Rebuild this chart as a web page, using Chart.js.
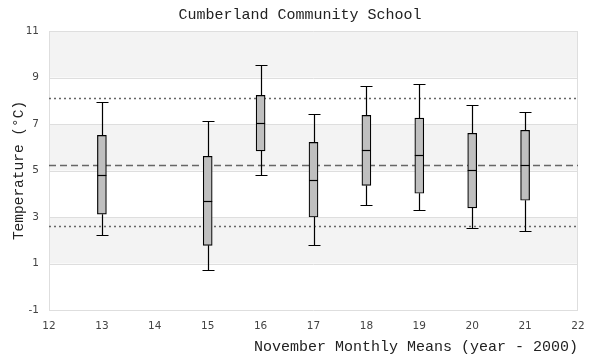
<!DOCTYPE html>
<html>
<head>
<meta charset="utf-8">
<script src="https://cdn.jsdelivr.net/npm/chart.js@4.4.0/dist/chart.umd.min.js"></script>
<style>
  html, body { margin: 0; padding: 0; background: #ffffff; }
  #wrap { width: 600px; height: 360px; position: relative; }
</style>
</head>
<body>
<div id="wrap"><canvas id="c" width="600" height="360"></canvas></div>
<script>
// ---- data ----
const years      = [13, 15, 16, 17, 18, 19, 20, 21];
const whiskerLow = [2.21, 0.71, 4.79, 1.78, 3.50, 3.29, 2.51, 2.38];
const boxLow     = [3.12, 1.78, 5.84, 3.00, 4.36, 4.02, 3.39, 3.72];
const medians    = [4.79, 3.68, 7.04, 4.58, 5.88, 5.65, 5.02, 5.22];
const boxHigh    = [6.51, 5.61, 8.23, 6.21, 7.37, 7.25, 6.60, 6.73];
const whiskerHigh= [7.93, 7.12, 9.52, 7.42, 8.62, 8.71, 7.80, 7.50];
const meanLine   = 5.24;
const upperDotted= 8.10;
const lowerDotted= 2.62;
const xTicks     = [12, 13, 14, 15, 16, 17, 18, 19, 20, 21, 22];
const yTicks     = [-1, 1, 3, 5, 7, 9, 11];

const titleFont = { family: "'Liberation Mono', monospace", size: 15, weight: 'normal' };
const tickFont  = { family: "'DejaVu Sans', sans-serif", size: 10.5 };

const boxData = years.map((y, i) => ({ x: y, y: [boxLow[i], boxHigh[i]] }));

const boxPlugin = {
  id: 'boxextras',
  beforeDatasetsDraw(chart) {
    const { ctx, chartArea: a, scales: { x, y } } = chart;
    ctx.save();
    // alternating bands
    for (let i = 0; i < yTicks.length - 1; i++) {
      const lo = yTicks[i], hi = yTicks[i + 1];
      if (i % 2 === 1) {
        ctx.fillStyle = '#f3f3f3';
        const top = y.getPixelForValue(hi), bot = y.getPixelForValue(lo);
        ctx.fillRect(a.left, top, a.right - a.left, bot - top);
      }
    }
    // grid lines
    ctx.strokeStyle = '#dedede';
    ctx.lineWidth = 1;
    yTicks.forEach(v => {
      const py = Math.round(y.getPixelForValue(v)) + 0.5;
      ctx.beginPath(); ctx.moveTo(a.left, py); ctx.lineTo(a.right, py); ctx.stroke();
    });
    ctx.beginPath();
    ctx.moveTo(Math.round(a.left) + 0.5, a.top); ctx.lineTo(Math.round(a.left) + 0.5, a.bottom);
    ctx.moveTo(Math.round(a.right) - 0.5, a.top); ctx.lineTo(Math.round(a.right) - 0.5, a.bottom);
    ctx.stroke();
    // reference lines
    ctx.strokeStyle = '#666666';
    ctx.lineWidth = 1.3;
    const hline = (v, dash) => {
      const py = Math.round(y.getPixelForValue(v)) + 0.5;
      ctx.setLineDash(dash);
      ctx.beginPath(); ctx.moveTo(a.left, py); ctx.lineTo(a.right, py); ctx.stroke();
    };
    hline(meanLine, [7, 4]);
    hline(upperDotted, [2, 3]);
    hline(lowerDotted, [2, 3]);
    ctx.setLineDash([]);
    // whiskers
    ctx.strokeStyle = '#000000';
    ctx.lineWidth = 1.2;
    years.forEach((yr, i) => {
      const px = Math.round(x.getPixelForValue(yr)) + 0.5;
      const wl = y.getPixelForValue(whiskerLow[i]);
      const wh = y.getPixelForValue(whiskerHigh[i]);
      const bl = y.getPixelForValue(boxLow[i]);
      const bh = y.getPixelForValue(boxHigh[i]);
      ctx.beginPath();
      ctx.moveTo(px, wh); ctx.lineTo(px, bh);
      ctx.moveTo(px, bl); ctx.lineTo(px, wl);
      ctx.moveTo(px - 6, Math.round(wh) + 0.5); ctx.lineTo(px + 6, Math.round(wh) + 0.5);
      ctx.moveTo(px - 6, Math.round(wl) + 0.5); ctx.lineTo(px + 6, Math.round(wl) + 0.5);
      ctx.stroke();
    });
    ctx.restore();
  },
  afterDatasetsDraw(chart) {
    const { ctx, scales: { x, y } } = chart;
    ctx.save();
    ctx.strokeStyle = '#000000';
    ctx.lineWidth = 1.2;
    years.forEach((yr, i) => {
      const px = x.getPixelForValue(yr);
      const pm = Math.round(y.getPixelForValue(medians[i])) + 0.5;
      ctx.beginPath(); ctx.moveTo(px - 4.5, pm); ctx.lineTo(px + 4.5, pm); ctx.stroke();
    });
    ctx.restore();
  }
};

new Chart(document.getElementById('c'), {
  type: 'bar',
  data: {
    datasets: [{
      data: boxData,
      backgroundColor: '#bfbfbf',
      borderColor: '#000000',
      borderWidth: 1.2,
      borderSkipped: false,
      barThickness: 9
    }]
  },
  options: {
    responsive: false,
    animation: false,
    devicePixelRatio: 1,
    layout: { padding: { left: 22, right: 22, top: 0, bottom: 0 } },
    plugins: {
      legend: { display: false },
      tooltip: { enabled: false },
      title: {
        display: true,
        text: 'Cumberland Community School',
        color: '#222222',
        font: titleFont,
        padding: { top: 6, bottom: 7 }
      }
    },
    scales: {
      x: {
        type: 'linear',
        min: 12, max: 22,
        offset: false,
        grid: { display: false, drawTicks: false },
        border: { display: false },
        afterBuildTicks(s) { s.ticks = xTicks.map(v => ({ value: v })); },
        afterFit(s) { s.height = 50; },
        ticks: { color: '#444444', font: tickFont, padding: 10, maxRotation: 0, autoSkip: false },
        title: {
          display: true,
          text: 'November Monthly Means (year - 2000)',
          align: 'end',
          color: '#222222',
          font: titleFont,
          padding: { top: 4, bottom: 4 }
        }
      },
      y: {
        min: -1, max: 11,
        grid: { display: false, drawTicks: false },
        border: { display: false },
        afterBuildTicks(s) { s.ticks = yTicks.map(v => ({ value: v })); },
        afterFit(s) { s.width = 27; },
        ticks: { color: '#444444', font: tickFont, padding: 10 },
        title: {
          display: true,
          text: 'Temperature (°C)',
          color: '#222222',
          font: { family: "'Liberation Mono', monospace", size: 14.5 },
          padding: { top: -12, bottom: 4 }
        }
      }
    }
  },
  plugins: [boxPlugin]
});
</script>
</body>
</html>
